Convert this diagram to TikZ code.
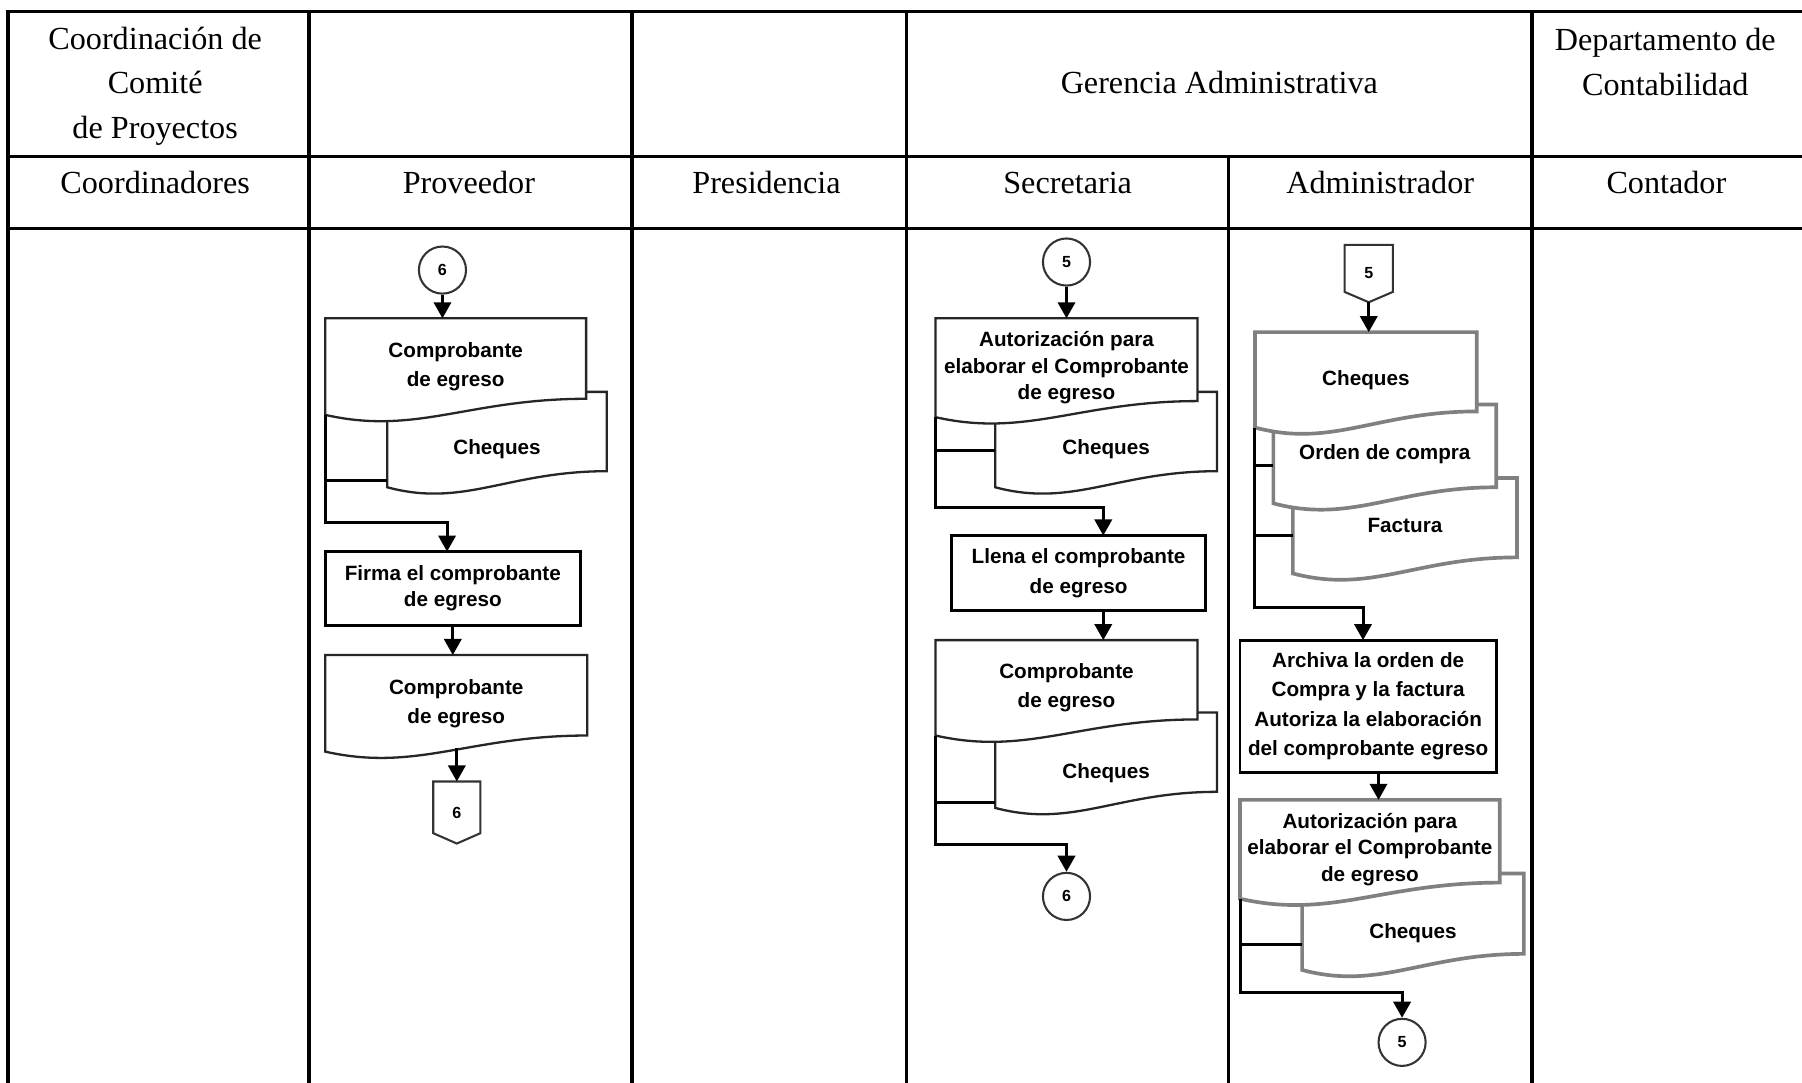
\documentclass[tikz,border=0pt]{standalone}
\usepackage{fontspec}
\setmainfont{Liberation Serif}
\newfontfamily\flowsans{Liberation Sans}
\usetikzlibrary{arrows.meta,calc,backgrounds}

% document symbol: flat top, wavy bottom
% #1 extra draw options, #2 node name, #3 how far the top edge sits above the node box
\newcommand\drawdoc[3][]{%
  \filldraw[docline,#1] ([yshift=#3]#2.north west) -- ([yshift=#3]#2.north east)
    -- ([yshift=7pt]#2.south east)
    .. controls ($(#2.south west)!0.55!(#2.south east)+(0,7pt)$)
       and ($(#2.south west)!0.35!(#2.south east)+(0,-9pt)$)
    .. (#2.south west) -- cycle;}
% off-page connector: box with a pointed bottom
\newcommand\drawoffpage[1]{%
  \draw[connline] (#1.north west) -- (#1.north east) -- ([yshift=4.5pt]#1.south east)
    -- (#1.south) -- ([yshift=4.5pt]#1.south west) -- cycle;}

\begin{document}
\begin{tikzpicture}[x=0.5pt,y=-0.5pt,
  lane/.style={draw=black,line width=1.5pt,line cap=rect},
  head/.style={font=\fontsize{14}{19.5}\selectfont,align=center,inner sep=0pt},
  flowtext/.style={font=\flowsans\bfseries\fontsize{9}{12.5}\selectfont,align=center},
  tight/.style={font=\flowsans\bfseries\fontsize{9}{11.5}\selectfont},
  conn/.style={circle,draw=black!80,line width=0.9pt,minimum size=20.5pt,inner sep=0pt,
     font=\flowsans\bfseries\fontsize{7}{8}\selectfont},
  connline/.style={draw=black!80,line width=0.9pt},
  offpage/.style={inner sep=0pt,outer sep=0pt,font=\flowsans\bfseries\fontsize{7}{8}\selectfont},
  doc/.style={flowtext,inner sep=0pt,outer sep=0pt},
  proc/.style={flowtext,draw=black,line width=1.2pt,inner sep=0pt,outer sep=0pt},
  docline/.style={draw=black!85,fill=white,line width=1pt},
  greydoc/.style={draw=black!50,line width=1.6pt},
  link/.style={draw=black,line width=1.3pt},
  flow/.style={link,-{Triangle[length=7pt,width=7.5pt]}},
]
\useasboundingbox (0,0) rectangle (1568,942);
\begin{scope}[on background layer]
  \fill[white] (0,0) rectangle (1568,942);
\end{scope}

% swimlane grid
\draw[lane] (7,10) -- (1568,10);
\draw[lane] (7,136) -- (1568,136);
\draw[lane] (7,199) -- (1568,199);
\foreach \x in {7,269,550,789,1333} \draw[lane] (\x,10) -- (\x,942);
\draw[lane] (1069,136) -- (1069,942);

% headings
\node[head] (hcoord) at (135,75) {Coordinación de\\Comité\\de Proyectos};
\node[head] (hgeren) at (1061,72) {Gerencia Administrativa};
\node[head] (hdepto) at (1449,54) {Departamento de\\Contabilidad};
\node[head] (lcoord) at (135,159) {Coordinadores};
\node[head] (lprov)  at (408,159) {Proveedor};
\node[head] (lpres)  at (667,159) {Presidencia};
\node[head] (lsecr)  at (929,159) {Secretaria};
\node[head] (ladmin) at (1201,159) {Administrador};
\node[head] (lcont)  at (1450,159) {Contador};

% Proveedor
\node[conn] (c6a) at (385,235) {6};
\node[doc,minimum width=113.5pt,minimum height=42pt] (pdoc1) at (396.5,319) {Comprobante\\de egreso};
\node[doc,minimum width=95.5pt,minimum height=33pt] (pchq) at (432.5,391) {Cheques};
\node[proc,minimum width=111pt,minimum height=32pt,tight] (pfirma) at (394,512) {Firma el comprobante\\de egreso};
\node[doc,minimum width=114pt,minimum height=42pt] (pdoc2) at (397,612) {Comprobante\\de egreso};
\node[offpage,minimum width=20.5pt,minimum height=27pt] (poff) at (397.5,707) {6};
\drawoffpage{poff}

% Secretaria
\node[conn] (c5a) at (928,228) {5};
\node[doc,tight,minimum width=114pt,minimum height=43pt] (sdoc1) at (928,320) {Autorización para\\elaborar el Comprobante\\de egreso};
\node[doc,minimum width=96.5pt,minimum height=33pt] (schq1) at (962.5,391) {Cheques};
\node[proc,minimum width=110.5pt,minimum height=32.5pt,font=\flowsans\bfseries\fontsize{9}{13}\selectfont] (sllena) at (938.5,498.5) {Llena el comprobante\\de egreso};
\node[doc,minimum width=114pt,minimum height=41.5pt] (sdoc2) at (928,598.5) {Comprobante\\de egreso};
\node[doc,minimum width=96.5pt,minimum height=30pt] (schq2) at (962.5,673) {Cheques};
\node[conn] (c6b) at (928,780) {6};

% Administrador
\node[offpage,minimum width=21pt,minimum height=25pt] (aoff) at (1191,238) {5};
\drawoffpage{aoff}
\node[doc,minimum width=96.5pt,minimum height=41.5pt] (adoc1) at (1188.5,330.5) {Cheques};
\node[doc,minimum width=97pt,minimum height=43pt] (adoc2) at (1205,395) {Orden de compra};
\node[doc,minimum width=97.5pt,minimum height=41.5pt] (adoc3) at (1222.5,457.5) {Factura};
\node[proc,minimum width=111.5pt,minimum height=57.5pt,font=\flowsans\bfseries\fontsize{9}{12.8}\selectfont] (aarch) at (1190.5,614.5) {Archiva la orden de\\Compra y la factura\\Autoriza la elaboración\\del comprobante egreso};
\node[doc,tight,minimum width=113pt,minimum height=43pt] (adoc4) at (1192,739) {Autorización para\\elaborar el Comprobante\\de egreso};
\node[doc,minimum width=96.5pt,minimum height=32pt] (achq) at (1229.5,812) {Cheques};
\node[conn] (c5b) at (1220,907) {5};

% document outlines, back sheets first
\begin{scope}[on background layer]
  \drawdoc{pchq}{8.5pt}
  \drawdoc{pdoc1}{0pt}
  \drawdoc{pdoc2}{0pt}
  \drawdoc{schq1}{8.5pt}
  \drawdoc{sdoc1}{0pt}
  \drawdoc{schq2}{11.5pt}
  \drawdoc{sdoc2}{0pt}
  \drawdoc[greydoc]{adoc3}{0pt}
  \drawdoc[greydoc]{adoc2}{0pt}
  \drawdoc[greydoc]{adoc1}{0pt}
  \drawdoc[greydoc]{achq}{10pt}
  \drawdoc[greydoc]{adoc4}{0pt}
\end{scope}

% turning points of the connectors
\coordinate (pjoin) at (389,455);
\coordinate (pbr) at (0,418);
\coordinate (sjoin1) at (960,442);
\coordinate (sbr1) at (0,392);
\coordinate (sjoin2) at (0,735);
\coordinate (sbr2) at (0,698);
\coordinate (ajoin1) at (1186,529);
\coordinate (abr1) at (0,405);
\coordinate (abr2) at (0,466);
\coordinate (ajoin2) at (0,864);
\coordinate (abr3) at (0,822);
\coordinate (aout) at ([xshift=4.5pt]aarch.south);

% Proveedor connectors
\draw[flow] (c6a.south) -- (c6a.south |- pdoc1.north);
\draw[flow] (pdoc1.south west) |- (pjoin) -- (pjoin |- pfirma.north);
\draw[link] (pdoc1.south west |- pbr) -- (pchq.west |- pbr);
\draw[flow] (pfirma.south) -- (pfirma.south |- pdoc2.north);
\draw[flow] ($(poff.north |- pdoc2.south)+(0,1.5pt)$) -- (poff.north);

% Secretaria connectors
\draw[flow] (c5a.south) -- (c5a.south |- sdoc1.north);
\draw[flow] (sdoc1.south west) |- (sjoin1) -- (sjoin1 |- sllena.north);
\draw[link] (sdoc1.south west |- sbr1) -- (schq1.west |- sbr1);
\draw[flow] (sjoin1 |- sllena.south) -- (sjoin1 |- sdoc2.north);
\draw[flow] (sdoc2.south west) |- (c6b.north |- sjoin2) -- (c6b.north);
\draw[link] (sdoc2.south west |- sbr2) -- (schq2.west |- sbr2);

% Administrador connectors
\draw[flow] (aoff.south) -- (aoff.south |- adoc1.north);
\draw[flow] (adoc1.south west) |- (ajoin1) -- (ajoin1 |- aarch.north);
\draw[link] (adoc1.south west |- abr1) -- (adoc2.west |- abr1);
\draw[link] (adoc1.south west |- abr2) -- (adoc3.west |- abr2);
\draw[flow] (aout) -- (aout |- adoc4.north);
\draw[flow] (adoc4.south west) |- (c5b.north |- ajoin2) -- (c5b.north);
\draw[link] (adoc4.south west |- abr3) -- (achq.west |- abr3);
\end{tikzpicture}
\end{document}
